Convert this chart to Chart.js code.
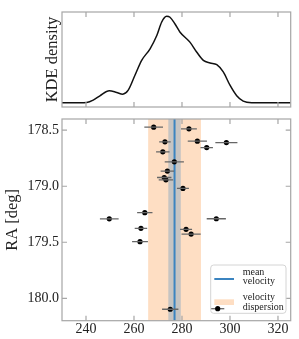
<!DOCTYPE html>
<html>
<head>
<meta charset="utf-8">
<script src="https://cdn.jsdelivr.net/npm/chart.js@4.4.0/dist/chart.umd.min.js"></script>
<style>
  html, body { margin: 0; padding: 0; background: #fff; }
  #wrap { position: relative; width: 299px; height: 339px; overflow: hidden; }
  #kdeChart { position: absolute; left: 0; top: 0; }
  #raChart { position: absolute; left: 0; top: 107px; }
</style>
</head>
<body>
<div id="wrap">
  <canvas id="raChart" width="299" height="232"></canvas>
  <canvas id="kdeChart" width="299" height="110"></canvas>
</div>
<script>
// ===== Data =====
const xTicks = [240, 260, 280, 300, 320];
const raTicks = [178.5, 179.0, 179.5, 180.0];
const xMin = 230, xMax = 325.3;
const raMin = 178.4, raMax = 180.2;

// KDE curve (relative density)
const kdeVelocity = [230, 237.5, 240.3, 243.0, 245.8, 249.7, 252.8, 255.3, 257.6, 260.4, 263.2, 266.7, 269.5, 271.5, 273.6, 275.0, 277.1, 279.2, 283.3, 286.1, 288.9, 291.7, 294.5, 297.2, 300.0, 302.8, 305.5, 309.0, 325.3];
const kdeDensity = [0, 0, 0.003, 0.03, 0.08, 0.138, 0.118, 0.099, 0.145, 0.317, 0.49, 0.624, 0.777, 0.931, 1.0, 0.989, 0.911, 0.816, 0.701, 0.587, 0.49, 0.46, 0.44, 0.356, 0.202, 0.08, 0.018, 0, 0];

// member stars: velocity, error, RA
const starVelocity = [268.2, 272.9, 272.0, 276.8, 273.9, 272.6, 273.3, 264.5, 249.7, 282.9, 286.4, 298.5, 290.3, 280.4, 294.3, 262.9, 262.5, 275.1, 281.7, 283.8];
const starVelocityErr = [3.9, 2.4, 2.8, 4.0, 2.8, 3.0, 3.0, 3.2, 3.9, 3.3, 4.0, 4.6, 2.6, 2.5, 4.0, 2.6, 3.3, 3.4, 2.5, 4.0];
const starRA = [178.473, 178.604, 178.693, 178.782, 178.865, 178.922, 178.943, 179.236, 179.291, 178.488, 178.598, 178.610, 178.655, 179.020, 179.290, 179.376, 179.495, 180.098, 179.385, 179.427];

const meanVelocity = 276.9;
const meanVelocityErr = 2.6;
const velocityDispersion = 11.0;
const legendLabels = ['mean\nvelocity', 'velocity\ndispersion'];

// ===== Styles =====
const serif = '"Liberation Serif", "Times New Roman", serif';
const tickFont = { family: serif, size: 14 };
const titleFont = { family: serif, size: 16.5 };
const textColor = '#222';
const frameColor = '#a6a6a6';
const meanColor = '#3b84c0';
const meanErrColor = 'rgb(198,196,194)';
const dispersionColor = 'rgb(254,222,195)';
const errColor = '#666';
const tickLen = 5;

// ===== Frame + inward ticks on all sides =====
const framePlugin = {
  id: 'frameTicks',
  afterDraw(chart, args, opts) {
    const { ctx, chartArea: a, scales } = chart;
    ctx.save();
    ctx.strokeStyle = frameColor;
    ctx.lineWidth = 1.2;
    ctx.strokeRect(a.left, a.top, a.width, a.height);
    ctx.beginPath();
    scales.x.ticks.forEach(t => {
      const px = scales.x.getPixelForValue(t.value);
      ctx.moveTo(px, a.top); ctx.lineTo(px, a.top + tickLen);
      ctx.moveTo(px, a.bottom); ctx.lineTo(px, a.bottom - tickLen);
    });
    if (opts.yTicks) {
      scales.y.ticks.forEach(t => {
        const py = scales.y.getPixelForValue(t.value);
        ctx.moveTo(a.left, py); ctx.lineTo(a.left + tickLen, py);
        ctx.moveTo(a.right, py); ctx.lineTo(a.right - tickLen, py);
      });
    }
    ctx.stroke();
    ctx.restore();
  }
};

// ===== Dispersion band, mean error band and mean line =====
const bandsPlugin = {
  id: 'bands',
  beforeDatasetsDraw(chart) {
    const { ctx, chartArea: a, scales: { x } } = chart;
    const px = v => x.getPixelForValue(v);
    ctx.save();
    ctx.beginPath(); ctx.rect(a.left, a.top, a.width, a.height); ctx.clip();
    const d0 = px(meanVelocity - velocityDispersion), d1 = px(meanVelocity + velocityDispersion);
    ctx.fillStyle = dispersionColor;
    ctx.fillRect(d0, a.top, d1 - d0, a.height);
    const e0 = px(meanVelocity - meanVelocityErr), e1 = px(meanVelocity + meanVelocityErr);
    ctx.fillStyle = meanErrColor;
    ctx.fillRect(e0, a.top, e1 - e0, a.height);
    ctx.strokeStyle = meanColor;
    ctx.lineWidth = 2;
    ctx.beginPath(); ctx.moveTo(px(meanVelocity), a.top); ctx.lineTo(px(meanVelocity), a.bottom); ctx.stroke();
    ctx.restore();
  }
};

// ===== Legend box (lower right) =====
const legendPlugin = {
  id: 'bandLegend',
  afterDraw(chart) {
    const { ctx, chartArea: a } = chart;
    const lx = a.right - 80, ly = a.bottom - 55.7, lw = 75.3, lh = 48.3;
    ctx.save();
    ctx.fillStyle = 'rgba(255,255,255,0.85)';
    ctx.strokeStyle = '#d4d4d4';
    ctx.lineWidth = 1;
    ctx.beginPath(); ctx.roundRect(lx, ly, lw, lh, 3); ctx.fill(); ctx.stroke();
    // mean velocity handle
    ctx.strokeStyle = meanColor; ctx.lineWidth = 2;
    ctx.beginPath(); ctx.moveTo(lx + 3.6, ly + 14); ctx.lineTo(lx + 23.3, ly + 14); ctx.stroke();
    // dispersion handle
    ctx.fillStyle = dispersionColor;
    ctx.fillRect(lx + 3.6, ly + 34.3, 19.7, 5.7);
    // errorbar handle
    ctx.strokeStyle = errColor; ctx.lineWidth = 1.3;
    ctx.beginPath(); ctx.moveTo(lx + 0.5, ly + 43.7); ctx.lineTo(lx + 13.6, ly + 43.7); ctx.stroke();
    ctx.fillStyle = '#000';
    ctx.beginPath(); ctx.arc(lx + 7, ly + 43.7, 2.6, 0, Math.PI * 2); ctx.fill();
    // labels
    ctx.fillStyle = textColor;
    ctx.font = '10px ' + serif;
    ctx.textBaseline = 'middle';
    const rows = [[7.3, 16.7], [32.7, 42.7]];
    legendLabels.forEach((lab, i) => {
      lab.split('\n').forEach((line, j) => ctx.fillText(line, lx + 32, ly + rows[i][j]));
    });
    ctx.restore();
  }
};

// ===== KDE panel =====
new Chart(document.getElementById('kdeChart'), {
  type: 'line',
  data: {
    datasets: [{
      data: kdeVelocity.map((v, i) => ({ x: v, y: kdeDensity[i] })),
      borderColor: '#111',
      borderWidth: 1.5,
      pointRadius: 0,
      cubicInterpolationMode: 'monotone',
      fill: false
    }]
  },
  options: {
    responsive: false,
    animation: false,
    devicePixelRatio: 1,
    layout: { padding: { left: 0, right: 8.3, top: 12, bottom: 3 } },
    plugins: { legend: { display: false }, tooltip: { enabled: false }, frameTicks: { yTicks: false } },
    scales: {
      x: {
        type: 'linear', min: xMin, max: xMax,
        grid: { display: false, drawTicks: false }, border: { display: false },
        ticks: { display: false },
        afterBuildTicks: s => { s.ticks = xTicks.map(v => ({ value: v })); },
        afterFit: s => { s.height = 0; s.paddingLeft = 0; s.paddingRight = 0; }
      },
      y: {
        type: 'linear', min: -0.05, max: 1.05,
        grid: { display: false, drawTicks: false }, border: { display: false },
        ticks: { display: false },
        title: { display: true, text: 'KDE density', font: titleFont, color: textColor, padding: { top: 42.4, bottom: 0 } },
        afterFit: s => { s.width = 62; s.paddingTop = 0; s.paddingBottom = 0; }
      }
    }
  },
  plugins: [framePlugin]
});

// ===== RA vs velocity panel =====
const errorBarSets = starVelocity.map((v, i) => ({
  data: [{ x: v - starVelocityErr[i], y: starRA[i] }, { x: v + starVelocityErr[i], y: starRA[i] }],
  showLine: true,
  borderColor: errColor,
  borderWidth: 1.3,
  pointRadius: 0
}));

new Chart(document.getElementById('raChart'), {
  type: 'scatter',
  data: {
    datasets: errorBarSets.concat([{
      data: starVelocity.map((v, i) => ({ x: v, y: starRA[i] })),
      backgroundColor: '#000',
      borderColor: '#000',
      borderWidth: 0,
      pointRadius: 2.6
    }])
  },
  options: {
    responsive: false,
    animation: false,
    devicePixelRatio: 1,
    layout: { padding: { left: 0, right: 8.3, top: 12, bottom: 0 } },
    plugins: { legend: { display: false }, tooltip: { enabled: false }, frameTicks: { yTicks: true } },
    scales: {
      x: {
        type: 'linear', min: xMin, max: xMax,
        grid: { display: false, drawTicks: false }, border: { display: false },
        ticks: { font: tickFont, color: textColor, padding: 0, maxRotation: 0 },
        afterBuildTicks: s => { s.ticks = xTicks.map(v => ({ value: v })); },
        afterFit: s => { s.height = 18.3; s.paddingLeft = 0; s.paddingRight = 0; }
      },
      y: {
        type: 'linear', reverse: true, min: raMin, max: raMax,
        grid: { display: false, drawTicks: false }, border: { display: false },
        ticks: { font: tickFont, color: textColor, padding: 3, callback: v => Number(v).toFixed(1) },
        title: { display: true, text: 'RA [deg]', font: titleFont, color: textColor, padding: { top: 3, bottom: 0 } },
        afterBuildTicks: s => { s.ticks = raTicks.map(v => ({ value: v })); },
        afterFit: s => { s.width = 62; s.paddingTop = 0; s.paddingBottom = 0; }
      }
    }
  },
  plugins: [bandsPlugin, framePlugin, legendPlugin]
});
</script>
</body>
</html>
